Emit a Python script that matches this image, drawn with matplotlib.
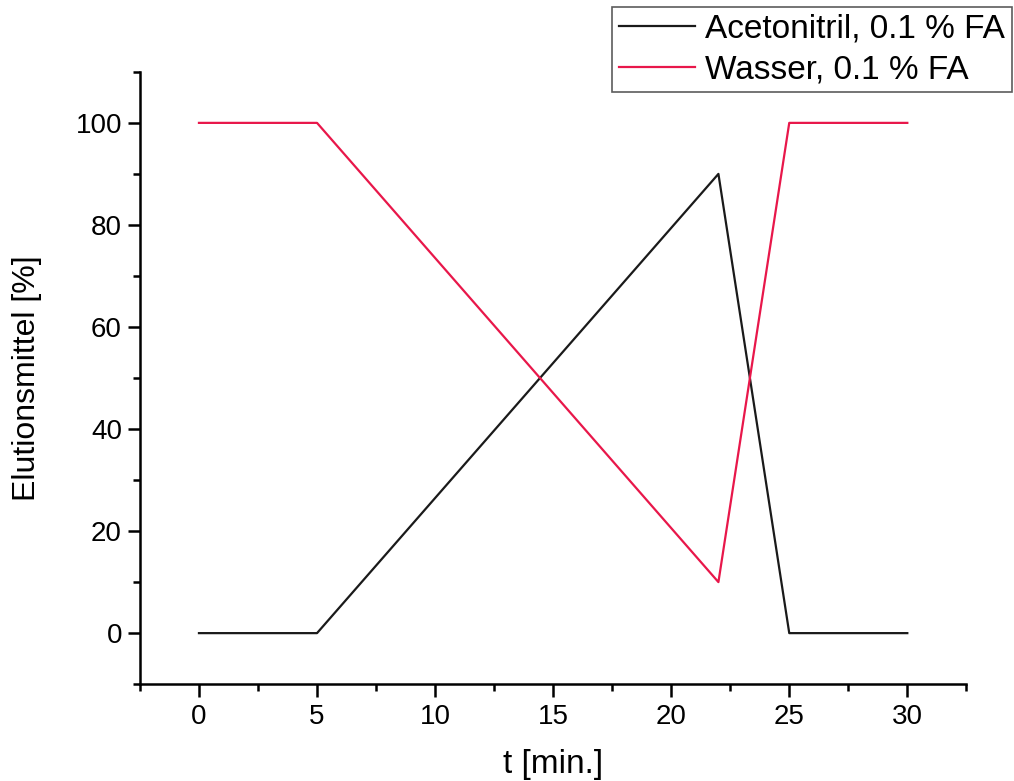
import matplotlib.pyplot as plt
from matplotlib.ticker import MultipleLocator

plt.rcParams['font.family'] = ['Liberation Sans', 'DejaVu Sans']

# gradient program
t_min = [0, 5, 22, 25, 30]
acetonitril = [0, 0, 90, 0, 0]
wasser = [100, 100, 10, 100, 100]

fig = plt.figure(figsize=(10.14, 7.81), dpi=100)
ax = fig.add_axes([0.138, 0.124, 0.815, 0.784])

ax.plot(t_min, acetonitril, color='#1a1a1a', lw=1.6, label='Acetonitril, 0.1 % FA')
ax.plot(t_min, wasser, color='#e8174a', lw=1.6, label='Wasser, 0.1 % FA')

ax.set_xlim(-2.5, 32.5)
ax.set_ylim(-10, 110)
ax.xaxis.set_major_locator(MultipleLocator(5))
ax.xaxis.set_minor_locator(MultipleLocator(2.5))
ax.yaxis.set_major_locator(MultipleLocator(20))
ax.yaxis.set_minor_locator(MultipleLocator(10))

for s in ['top', 'right']:
    ax.spines[s].set_visible(False)
for s in ['left', 'bottom']:
    ax.spines[s].set_linewidth(1.8)
ax.tick_params(which='major', direction='out', length=9, width=1.8, labelsize=20, pad=5)
ax.tick_params(which='major', axis='y', pad=4)
ax.tick_params(which='minor', direction='out', length=5, width=1.8)

ax.set_xlabel('t [min.]', fontsize=24, labelpad=14)
ax.set_ylabel('Elutionsmittel [%]', fontsize=23, labelpad=24)

leg = fig.legend(loc='upper right', bbox_to_anchor=(0.998, 0.991), fontsize=24,
                 frameon=True, fancybox=False, edgecolor='#333333', borderaxespad=0,
                 handlelength=2.3, borderpad=0.2, labelspacing=0.3, handletextpad=0.3)
leg.get_frame().set_linewidth(1.2)

fig.savefig('out.png', dpi=100)
